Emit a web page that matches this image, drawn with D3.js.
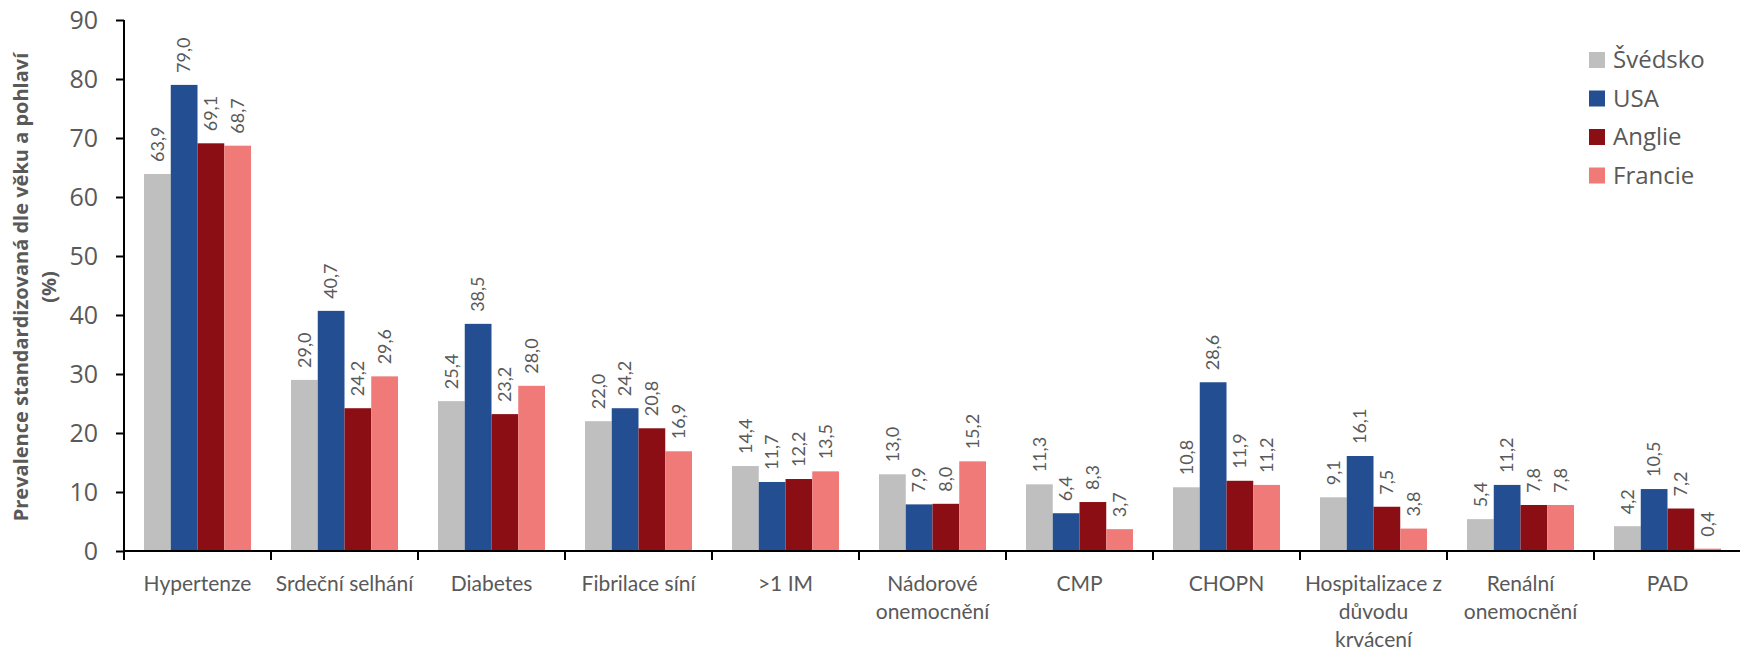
<!DOCTYPE html>
<html>
<head>
<meta charset="utf-8">
<script src="https://cdn.jsdelivr.net/npm/d3@7"></script>
<style>
  html, body { margin: 0; padding: 0; background: #fff; }
  svg { display: block; }
</style>
</head>
<body>
<svg id="chart" width="1740" height="653"></svg>
<script>
// Age- and sex-standardised prevalence of comorbidities by country
const categories = [
  ["Hypertenze"],
  ["Srdeční selhání"],
  ["Diabetes"],
  ["Fibrilace síní"],
  [">1 IM"],
  ["Nádorové", "onemocnění"],
  ["CMP"],
  ["CHOPN"],
  ["Hospitalizace z", "důvodu", "krvácení"],
  ["Renální", "onemocnění"],
  ["PAD"]
];
const seriesNames = ["Švédsko", "USA", "Anglie", "Francie"];
const seriesColors = ["#BFBFBF", "#234E91", "#8A0E14", "#F07A78"];
const sweden  = [63.9, 29.0, 25.4, 22.0, 14.4, 13.0, 11.3, 10.8, 9.1, 5.4, 4.2];
const usa     = [79.0, 40.7, 38.5, 24.2, 11.7, 7.9, 6.4, 28.6, 16.1, 11.2, 10.5];
const england = [69.1, 24.2, 23.2, 20.8, 12.2, 8.0, 8.3, 11.9, 7.5, 7.8, 7.2];
const france  = [68.7, 29.6, 28.0, 16.9, 13.5, 15.2, 3.7, 11.2, 3.8, 7.8, 0.4];
const yTicks = [0, 10, 20, 30, 40, 50, 60, 70, 80, 90];
const yTitle = ["Prevalence standardizovaná dle věku a pohlaví", "(%)"];

const series = [sweden, usa, england, france];
const textColor = "#595959";

const svg = d3.select("#chart");
const margin = { left: 124, right: 0, top: 20, bottom: 102 };
const width = 1740, height = 653;

const x0 = d3.scaleBand()
  .domain(d3.range(categories.length))
  .range([margin.left, 1741])
  .padding(0);

const x1 = d3.scaleBand()
  .domain(d3.range(seriesNames.length))
  .range([20, x0.bandwidth() - 20])
  .padding(0);

const y = d3.scaleLinear().domain([0, 90]).range([551, 20]);

// bars
const groups = svg.append("g").selectAll("g")
  .data(categories.map((c, i) => i))
  .join("g")
  .attr("transform", i => `translate(${x0(i)},0)`);

groups.selectAll("rect")
  .data(i => series.map((s, k) => ({ k, v: s[i] })))
  .join("rect")
  .attr("x", d => x1(d.k))
  .attr("y", d => y(d.v))
  .attr("width", x1.bandwidth())
  .attr("height", d => y(0) - y(d.v))
  .attr("fill", d => seriesColors[d.k]);

// value labels, rotated
groups.selectAll("text.val")
  .data(i => series.map((s, k) => ({ k, v: s[i] })))
  .join("text")
  .attr("class", "val")
  .attr("transform", d => `translate(${x1(d.k) + x1.bandwidth() / 2},${y(d.v) - 12}) rotate(-90)`)
  .attr("dy", "0.35em")
  .attr("text-anchor", "start")
  .attr("font-family", "Lato, sans-serif")
  .attr("font-size", 18)
  .attr("fill", textColor)
  .text(d => d.v.toFixed(1).replace(".", ","));

// y axis
const yAxis = svg.append("g")
  .attr("transform", `translate(${margin.left},0)`)
  .call(d3.axisLeft(y).tickValues(yTicks).tickSize(8).tickPadding(18).tickFormat(d3.format("d")));
yAxis.select(".domain").attr("stroke", "#000").attr("stroke-width", 2)
  .attr("d", `M0,${y(90)}V${y(0)}`);
yAxis.selectAll(".tick line").attr("stroke", "#000").attr("stroke-width", 2);
yAxis.selectAll(".tick text")
  .attr("font-family", "'Open Sans', sans-serif")
  .attr("font-size", 25)
  .attr("fill", textColor);

// x axis
const xAxis = svg.append("g")
  .attr("transform", `translate(0,${y(0)})`);
xAxis.append("line")
  .attr("x1", margin.left).attr("x2", width)
  .attr("stroke", "#000").attr("stroke-width", 2);
xAxis.selectAll("line.tick")
  .data(d3.range(categories.length + 1))
  .join("line")
  .attr("class", "tick")
  .attr("x1", i => margin.left + i * x0.bandwidth())
  .attr("x2", i => margin.left + i * x0.bandwidth())
  .attr("y1", 0).attr("y2", 9)
  .attr("stroke", "#000").attr("stroke-width", 2);

const catLabels = xAxis.selectAll("text.cat")
  .data(categories)
  .join("text")
  .attr("class", "cat")
  .attr("x", (d, i) => x0(i) + x0.bandwidth() / 2)
  .attr("y", 33)
  .attr("text-anchor", "middle")
  .attr("font-family", "Lato, sans-serif")
  .attr("font-size", 21)
  .attr("fill", textColor);
catLabels.selectAll("tspan")
  .data(d => d)
  .join("tspan")
  .attr("x", function () { return d3.select(this.parentNode).attr("x"); })
  .attr("dy", (d, j) => j === 0 ? "0.35em" : 28)
  .text(d => d);

// y axis title
const title = svg.append("text")
  .attr("transform", `translate(21,287) rotate(-90)`)
  .attr("text-anchor", "middle")
  .attr("font-family", "'Open Sans', sans-serif")
  .attr("font-weight", "bold")
  .attr("font-size", 20)
  .attr("fill", textColor);
title.selectAll("tspan")
  .data(yTitle)
  .join("tspan")
  .attr("x", 0)
  .attr("dy", (d, j) => j === 0 ? "0.35em" : 28)
  .text(d => d);

// legend
const legend = svg.append("g").selectAll("g")
  .data(seriesNames)
  .join("g")
  .attr("transform", (d, i) => `translate(1589,${60 + i * 38.5})`);
legend.append("rect")
  .attr("x", 0).attr("y", -8)
  .attr("width", 16).attr("height", 16)
  .attr("fill", (d, i) => seriesColors[i]);
legend.append("text")
  .attr("x", 24).attr("dy", "0.35em")
  .attr("font-family", "'Open Sans', sans-serif")
  .attr("font-size", 24)
  .attr("fill", textColor)
  .text(d => d);
</script>
</body>
</html>
